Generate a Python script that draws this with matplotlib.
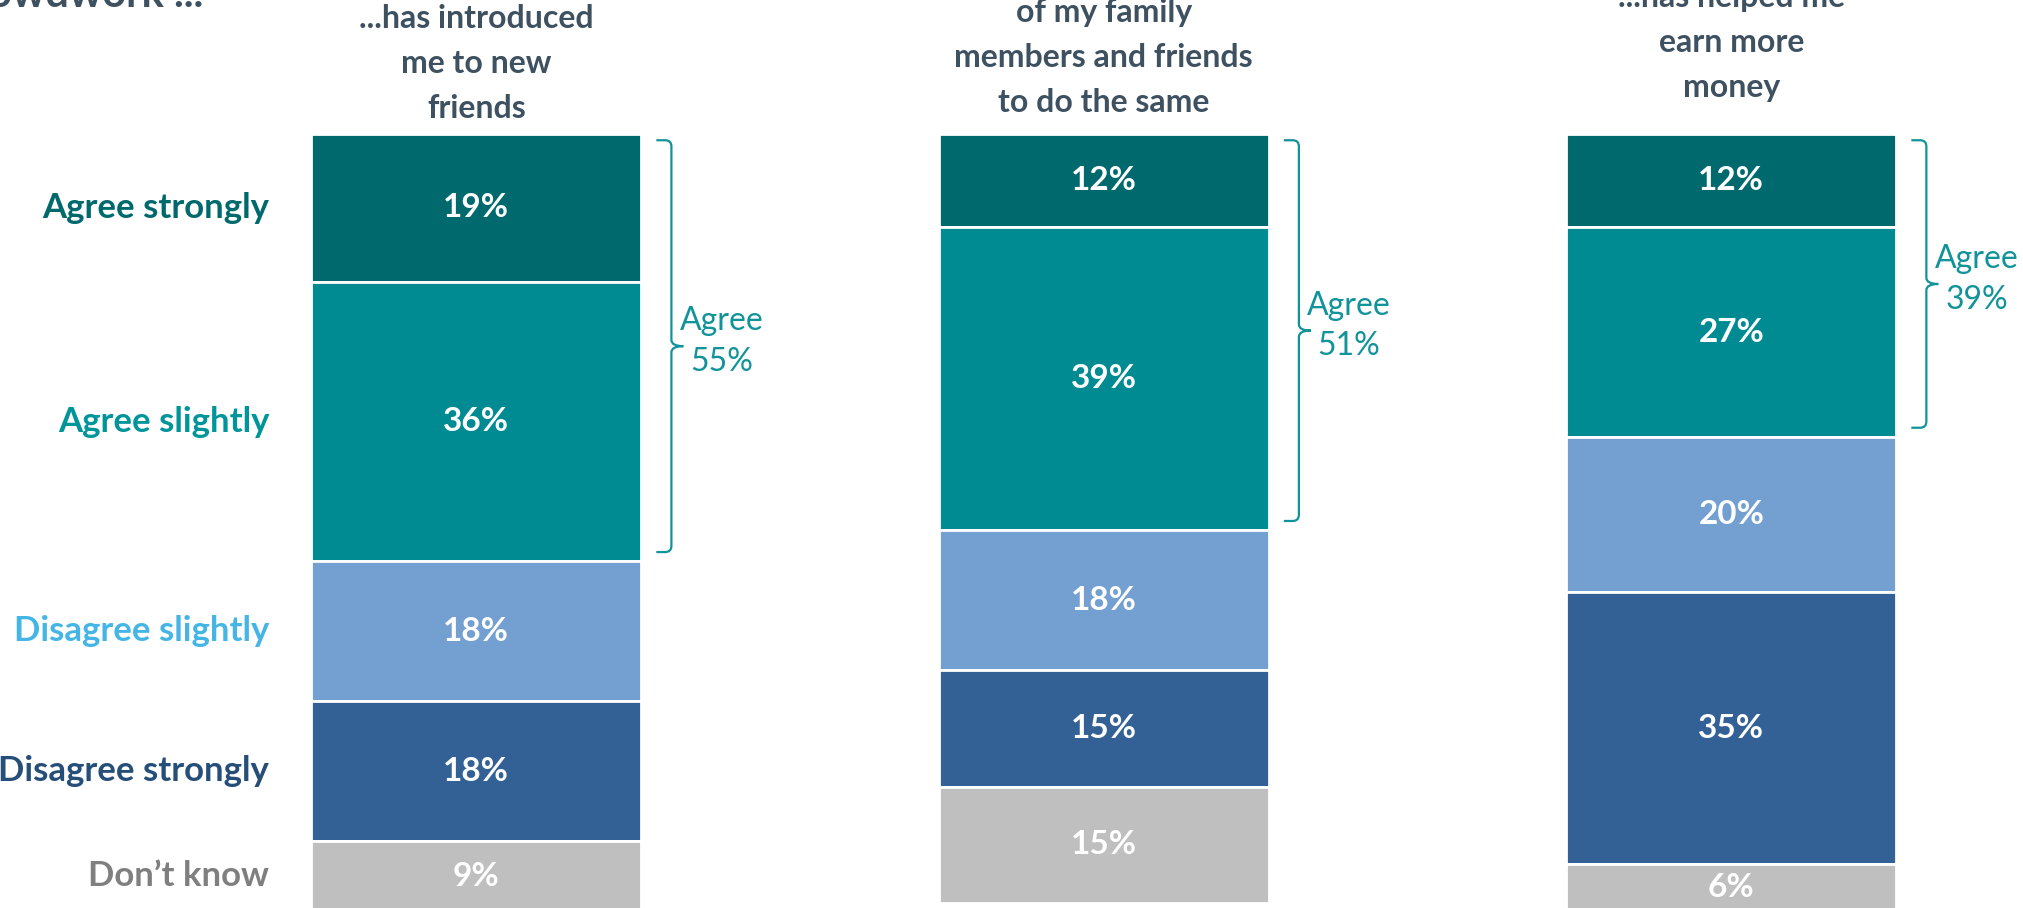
import matplotlib.pyplot as plt
from matplotlib.path import Path
from matplotlib.patches import PathPatch
import numpy as np

plt.rcParams['font.family'] = ['Lato', 'DejaVu Sans']

# data
categories = ['Agree strongly', 'Agree slightly', 'Disagree slightly',
              'Disagree strongly', 'Don\u2019t know']
agree_strongly = [19, 12, 12]
agree_slightly = [36, 39, 27]
disagree_slightly = [18, 18, 20]
disagree_strongly = [18, 15, 35]
dont_know = [9, 15, 6]
agree_totals = [55, 51, 39]
column_titles = [
    ['...has introduced', 'me to new', 'friends'],
    ['of my family', 'members and friends', 'to do the same'],
    ['...has helped me', 'earn more', 'money'],
]
heading = 'Crowdwork ...'

bar_colors = ['#00696D', '#008B93', '#73A0D1', '#336195', '#BFBFBF']
label_colors = ['#00696D', '#00959B', '#45B5E6', '#254E79', '#7F7F7F']
teal = '#11939A'
title_color = '#3E5161'

series = [agree_strongly, agree_slightly, disagree_slightly,
          disagree_strongly, dont_know]

fig = plt.figure(figsize=(20.23, 9.08), dpi=100)
ax = fig.add_axes([0, 0, 1, 1])
ax.set_xlim(-0.759, 2.465)
ax.set_ylim(0.39, 117.25)
ax.axis('off')

x = np.arange(len(agree_totals))
width = 0.526
top = np.full(len(x), 100.0)
centers_first = []
for vals, col in zip(series, bar_colors):
    vals = np.array(vals, dtype=float)
    bottom = top - vals
    ax.bar(x, vals, width, bottom=bottom, color=col, edgecolor='white',
           linewidth=2)
    for xi, b, v in zip(x, bottom, vals):
        ax.text(xi, b + v / 2, f'{int(v)}%', ha='center', va='center',
                color='white', fontsize=24, fontweight='bold')
    centers_first.append(bottom[0] + vals[0] / 2)
    top = bottom

# row labels on the left, aligned with first bar
for cat, yc, col in zip(categories, centers_first, label_colors):
    ax.text(-0.33, yc, cat, ha='right', va='center', color=col,
            fontsize=25, fontweight='bold')

# brackets for agree totals
for xi, s, sl, tot in zip(x, agree_strongly, agree_slightly, agree_totals):
    right = xi + width / 2
    x0, xv, xt = right + 0.024, right + 0.048, right + 0.067
    yt = 100 - 0.8
    yb = 100 - (s + sl) + 1.2
    ym = (yt + yb) / 2
    rx, ry = 0.01, 0.8
    verts = [(x0, yt), (xv - rx, yt), (xv, yt), (xv, yt - ry),
             (xv, ym + ry), (xv, ym), (xt, ym),
             (xt, ym), (xv, ym), (xv, ym - ry),
             (xv, yb + ry), (xv, yb), (xv - rx, yb), (x0, yb)]
    codes = [Path.MOVETO, Path.LINETO, Path.CURVE3, Path.CURVE3,
             Path.LINETO, Path.CURVE3, Path.CURVE3,
             Path.MOVETO, Path.CURVE3, Path.CURVE3,
             Path.LINETO, Path.CURVE3, Path.CURVE3, Path.LINETO]
    ax.add_patch(PathPatch(Path(verts, codes), fill=False, edgecolor=teal,
                           linewidth=1.6))
    ax.text(right + 0.128, ym + 0.6, f'Agree\n{tot}%', ha='center',
            va='center', color=teal, fontsize=23, linespacing=1.45)

# column titles (top lines are cut off by the frame)
title_base = [102.1, 102.8, 104.8]
for xi, lines, yb in zip(x, column_titles, title_base):
    for k, line in enumerate(reversed(lines)):
        ax.text(xi, yb + k * 5.8, line, ha='center', va='baseline',
                color=title_color, fontsize=23, fontweight='bold')

ax.text(-0.435, 116.4, heading, ha='right', va='baseline', color=title_color,
        fontsize=30, fontweight='bold')

fig.savefig('out.png', dpi=100)
